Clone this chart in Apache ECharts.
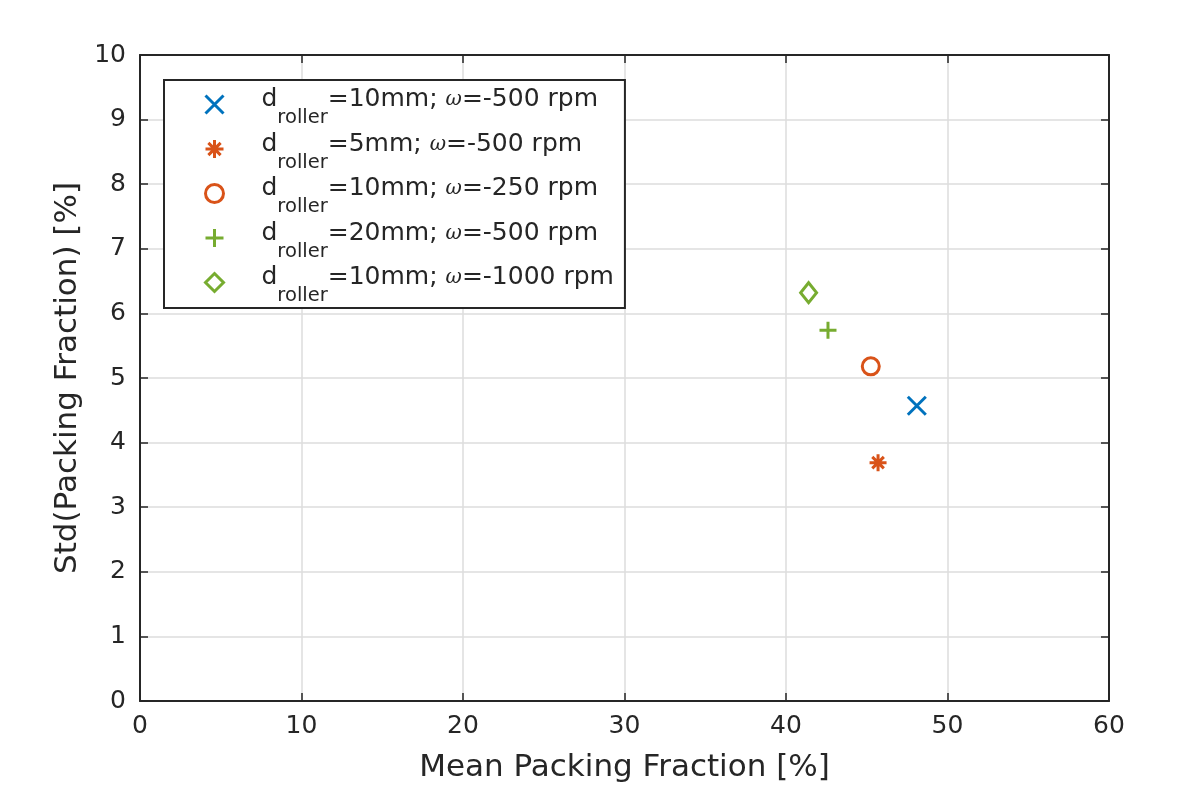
<!DOCTYPE html>
<html>
<head>
<meta charset="utf-8">
<script src="https://cdn.jsdelivr.net/npm/echarts@6/dist/echarts.min.js"></script>
<style>
  html, body { margin: 0; padding: 0; background: #fff; }
  #main { width: 1196px; height: 788px; }
</style>
</head>
<body>
<div id="main"></div>
<script>
// values
var dRoller = ['10', '5', '10', '20', '10'];
var omegaRpm = ['-500', '-500', '-250', '-500', '-1000'];
var meanPF = [48.1, 45.7, 45.25, 42.6, 41.4];
var stdPF = [4.57, 3.69, 5.18, 5.74, 6.32];
var colors = ['#0072BD', '#D95319', '#D95319', '#77AC30', '#77AC30'];
var symbols = [
    'path://M0,0L10,10M10,0L0,10',
    'path://M5,0L5,10M0,5L10,5M1.6,1.6L8.4,8.4M8.4,1.6L1.6,8.4',
    'circle',
    'path://M5,0L5,10M0,5L10,5',
    'diamond'
];
var symbolSizes = [18, 17, 17, 17, [16, 20]];

var xTicks = { min: 0, max: 60, interval: 10 };
var yTicks = { min: 0, max: 10, interval: 1 };

var names = dRoller.map(function (d, i) {
    return 'd_roller=' + d + 'mm; w=' + omegaRpm[i] + ' rpm';
});

var txt = '#262626';
var font = 'DejaVu Sans';

var series = names.map(function (n, i) {
    return {
        name: n,
        type: 'scatter',
        symbol: symbols[i],
        symbolSize: symbolSizes[i],
        data: [[meanPF[i], stdPF[i]]],
        itemStyle: { color: 'rgba(0,0,0,0)', borderColor: colors[i], borderWidth: 3, opacity: 1 },
        emphasis: { disabled: true },
        z: 3
    };
});

function axisCommon(t) {
    return {
        type: 'value',
        min: t.min,
        max: t.max,
        interval: t.interval,
        axisLine: { show: true, onZero: false, lineStyle: { color: txt, width: 2 } },
        axisTick: { show: true, inside: true, length: 8, lineStyle: { color: txt, width: 1.5 } }
    };
}

var xMain = axisCommon(xTicks);
xMain.position = 'bottom';
xMain.name = 'Mean Packing Fraction [%]';
xMain.nameLocation = 'middle';
xMain.nameGap = 51;
xMain.nameTextStyle = { fontFamily: font, fontSize: 31, color: txt };
xMain.axisLabel = { margin: 13, fontFamily: font, fontSize: 25, color: txt };
xMain.splitLine = { show: true, lineStyle: { color: '#dcdcdc', width: 1.5 } };

var xTop = axisCommon(xTicks);
xTop.position = 'top';
xTop.axisLabel = { show: false };
xTop.splitLine = { show: false };

var yMain = axisCommon(yTicks);
yMain.position = 'left';
yMain.name = 'Std(Packing Fraction) [%]';
yMain.nameLocation = 'middle';
yMain.nameGap = 57;
yMain.nameTextStyle = { fontFamily: font, fontSize: 31, color: txt };
yMain.axisLabel = { margin: 14, fontFamily: font, fontSize: 25, color: txt };
yMain.splitLine = { show: true, lineStyle: { color: '#dcdcdc', width: 1.5 } };

var yRight = axisCommon(yTicks);
yRight.position = 'right';
yRight.axisLabel = { show: false };
yRight.splitLine = { show: false };

var myChart = echarts.init(document.getElementById('main'));
myChart.setOption({
    backgroundColor: '#fff',
    animation: false,
    grid: { left: 140, right: 87, top: 55, bottom: 87, containLabel: false },
    xAxis: [xMain, xTop],
    yAxis: [yMain, yRight],
    legend: {
        data: names,
        orient: 'vertical',
        left: 164,
        top: 80,
        padding: [7, 11, 2, 40],
        itemGap: 3.5,
        itemWidth: 18,
        itemHeight: 18,
        selectedMode: false,
        backgroundColor: '#fff',
        borderColor: txt,
        borderWidth: 2,
        borderRadius: 0,
        itemStyle: { borderWidth: 3, opacity: 1 },
        formatter: function (name) {
            var i = names.indexOf(name);
            return '{m|d}{sub|roller}{m|=' + dRoller[i] + 'mm; }{w|\u03c9}{m|=' + omegaRpm[i] + ' rpm}';
        },
        textStyle: {
            padding: [0, 0, 9, 33],
            rich: {
                m: { fontFamily: font, fontSize: 25, lineHeight: 26, verticalAlign: 'top', color: txt },
                sub: { fontFamily: font, fontSize: 19.5, lineHeight: 18, padding: [21, 0, 0, 0], verticalAlign: 'top', color: txt },
                w: { fontFamily: 'DejaVu Serif', fontStyle: 'italic', fontSize: 20, lineHeight: 26, padding: [3, 0, 0, 0], verticalAlign: 'top', color: txt }
            }
        }
    },
    series: series
});
</script>
</body>
</html>
